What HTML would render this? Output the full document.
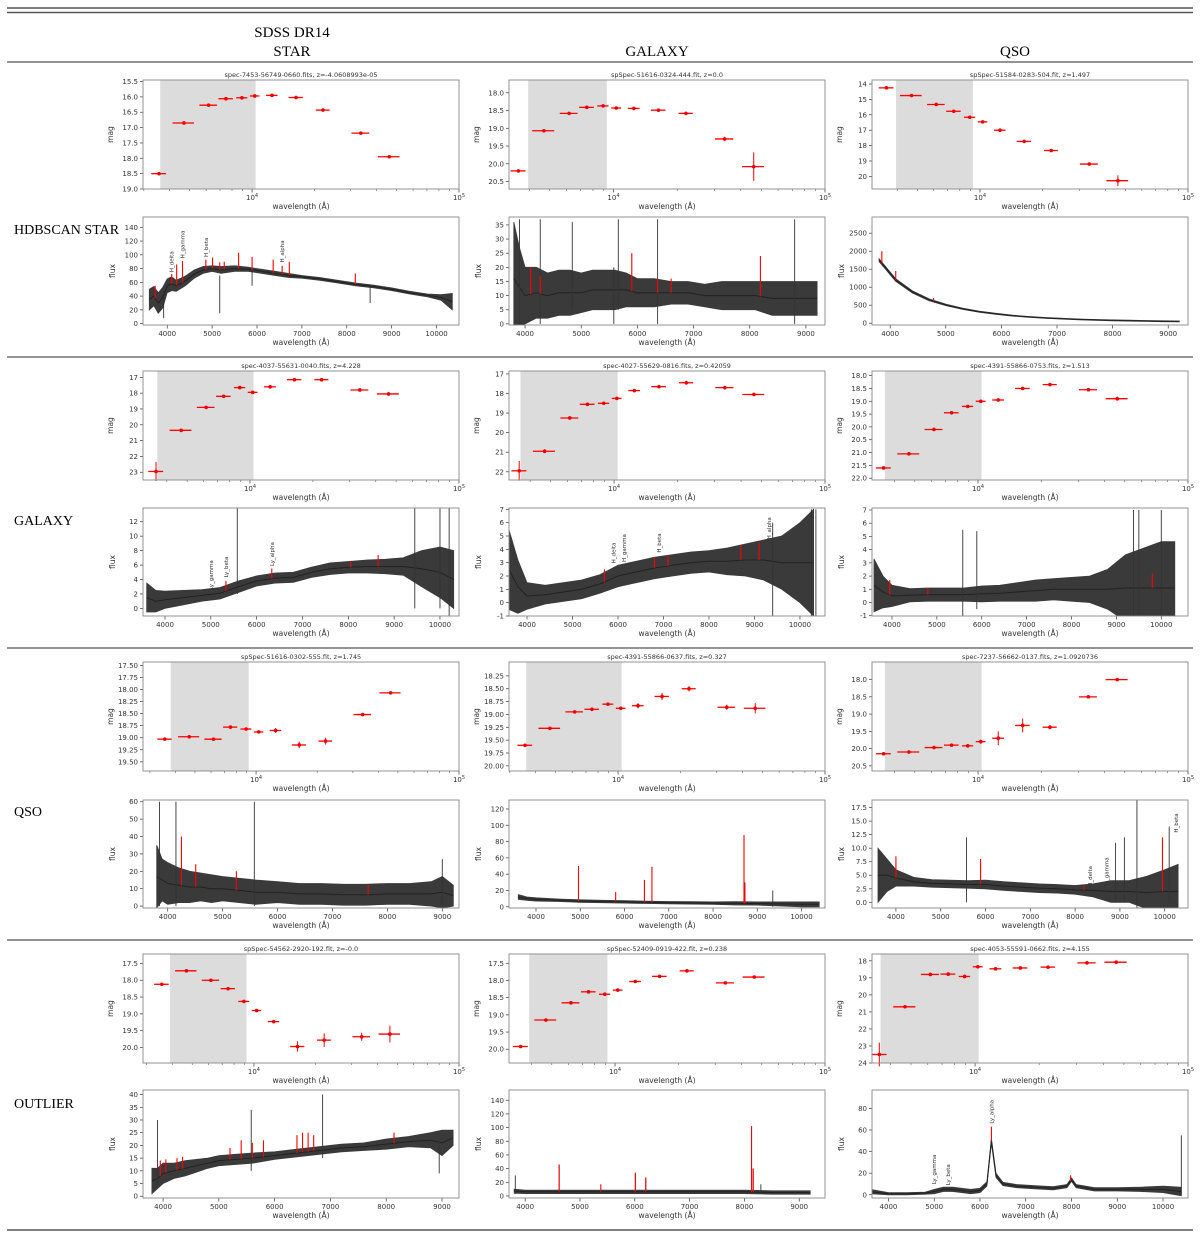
<!DOCTYPE html>
<html><head><meta charset="utf-8"><style>
html,body{margin:0;padding:0;background:#fff;}
svg{display:block;}
.t{font-family:"DejaVu Sans","Liberation Sans",sans-serif;fill:#333;}
.s{font-family:"Liberation Serif",serif;fill:#000;}
</style></head><body>
<svg id="fig" xmlns="http://www.w3.org/2000/svg" width="1200" height="1238" viewBox="0 0 1200 1238">
<line x1="7" y1="8" x2="1193" y2="8" stroke="#555" stroke-width="1.5"/>
<line x1="7" y1="12.5" x2="1193" y2="12.5" stroke="#555" stroke-width="1.5"/>
<line x1="7" y1="62" x2="1193" y2="62" stroke="#555" stroke-width="1.2"/>
<line x1="7" y1="357" x2="1193" y2="357" stroke="#555" stroke-width="1.2"/>
<line x1="7" y1="648" x2="1193" y2="648" stroke="#555" stroke-width="1.2"/>
<line x1="7" y1="940" x2="1193" y2="940" stroke="#555" stroke-width="1.2"/>
<line x1="7" y1="1230" x2="1193" y2="1230" stroke="#555" stroke-width="1.5"/>
<text class="s" x="292" y="37" font-size="15" text-anchor="middle">SDSS DR14</text>
<text class="s" x="292" y="56" font-size="15" text-anchor="middle">STAR</text>
<text class="s" x="657" y="56" font-size="15" text-anchor="middle">GALAXY</text>
<text class="s" x="1015" y="56" font-size="15" text-anchor="middle">QSO</text>
<text class="s" x="14" y="234" font-size="14">HDBSCAN STAR</text>
<text class="s" x="14" y="525" font-size="14">GALAXY</text>
<text class="s" x="14" y="816" font-size="14">QSO</text>
<text class="s" x="14" y="1108" font-size="14">OUTLIER</text>
</svg>
<script>
// ---- shared filter data ----
const filterWave = [3551,4686,6166,7480,8932,10305,12483,16313,22010,33526,46028];
const filterHalf = [290,560,600,600,550,550,800,1300,1700,3300,5500];

// ---- SED magnitudes ----
const magR1C1 = [18.5,16.85,16.27,16.06,16.03,15.97,15.95,16.02,16.43,17.18,17.95];
const errR1C1 = [0.03,0.02,0.02,0.02,0.02,0.02,0.02,0.02,0.03,0.04,0.03];
const magR1C2 = [20.2,19.07,18.58,18.41,18.37,18.43,18.44,18.49,18.58,19.3,20.08];
const errR1C2 = [0.03,0.03,0.03,0.03,0.03,0.03,0.03,0.03,0.04,0.06,0.4];
const magR1C3 = [14.25,14.75,15.33,15.77,16.16,16.46,17.0,17.73,18.32,19.2,20.28];
const errR1C3 = [0.05,0.05,0.05,0.05,0.08,0.08,0.08,0.08,0.08,0.1,0.35];
const magR2C1 = [22.95,20.35,18.9,18.2,17.65,17.95,17.6,17.15,17.15,17.8,18.05];
const errR2C1 = [0.6,0.08,0.08,0.08,0.1,0.08,0.1,0.08,0.08,0.08,0.08];
const magR2C2 = [21.95,20.95,19.25,18.55,18.5,18.25,17.85,17.65,17.45,17.7,18.05];
const errR2C2 = [0.5,0.1,0.08,0.08,0.08,0.08,0.08,0.08,0.1,0.08,0.08];
const magR2C3 = [21.6,21.05,20.1,19.45,19.2,19.0,18.95,18.5,18.35,18.55,18.9];
const errR2C3 = [0.05,0.05,0.05,0.05,0.05,0.05,0.05,0.05,0.05,0.05,0.08];
const magR3C1 = [19.03,18.98,19.03,18.78,18.82,18.88,18.85,19.15,19.07,18.52,18.07];
const errR3C1 = [0.02,0.02,0.03,0.02,0.02,0.02,0.05,0.07,0.07,0.03,0.03];
const magR3C2 = [19.6,19.27,18.95,18.9,18.8,18.88,18.83,18.65,18.5,18.86,18.88];
const errR3C2 = [0.02,0.02,0.02,0.03,0.03,0.03,0.05,0.07,0.05,0.05,0.1];
const magR3C3 = [20.15,20.1,19.97,19.9,19.92,19.8,19.7,19.33,19.38,18.5,18.0];
const errR3C3 = [0.03,0.03,0.03,0.03,0.03,0.06,0.2,0.2,0.06,0.03,0.03];
const magR4C1 = [18.12,17.72,18.0,18.25,18.63,18.9,19.23,19.97,19.78,19.68,19.6];
const errR4C1 = [0.03,0.03,0.03,0.03,0.03,0.03,0.05,0.15,0.2,0.12,0.25];
const magR4C2 = [19.92,19.15,18.65,18.33,18.4,18.28,18.03,17.88,17.72,18.07,17.9];
const errR4C2 = [0.03,0.03,0.03,0.03,0.03,0.03,0.03,0.03,0.03,0.03,0.03];
const magR4C3 = [23.5,20.7,18.8,18.78,18.92,18.35,18.47,18.42,18.37,18.12,18.08];
const errR4C3 = [0.7,0.05,0.1,0.1,0.1,0.05,0.05,0.05,0.05,0.05,0.05];

// ---- SED y tick labels ----
const yTickR1C1 = ["15.5","16.0","16.5","17.0","17.5","18.0","18.5","19.0"];
const yTickR1C2 = ["18.0","18.5","19.0","19.5","20.0","20.5"];
const yTickR1C3 = ["14","15","16","17","18","19","20"];
const yTickR2C1 = ["17","18","19","20","21","22","23"];
const yTickR2C2 = ["17","18","19","20","21","22"];
const yTickR2C3 = ["18.0","18.5","19.0","19.5","20.0","20.5","21.0","21.5","22.0"];
const yTickR3C1 = ["17.50","17.75","18.00","18.25","18.50","18.75","19.00","19.25","19.50"];
const yTickR3C2 = ["18.25","18.50","18.75","19.00","19.25","19.50","19.75","20.00"];
const yTickR3C3 = ["18.0","18.5","19.0","19.5","20.0","20.5"];
const yTickR4C1 = ["17.5","18.0","18.5","19.0","19.5","20.0"];
const yTickR4C2 = ["17.5","18.0","18.5","19.0","19.5","20.0"];
const yTickR4C3 = ["18","19","20","21","22","23","24"];

// ---- spectra: wavelength / flux / noise half-width ----
const waveS11 = [3600,3700,3800,3900,4000,4100,4200,4400,4600,4800,5000,5200,5500,5800,6100,6400,6700,7000,7400,7800,8200,8600,9000,9400,9800,10100,10350];
const fluxS11 = [35,40,30,38,55,58,55,62,72,78,80,78,80,79,76,73,70,68,65,61,57,54,50,45,41,38,32];
const noiseS11 = [15,14,15,15,10,10,8,7,6,5,4,5,4,3,3,3,3,2,2,2,2,2,2,2,2,4,12];
const waveS12 = [3800,3900,4000,4200,4400,4600,4800,5000,5200,5400,5600,5800,6000,6300,6600,6900,7200,7500,7800,8100,8400,8700,9000,9200];
const fluxS12 = [16,13,10,11,10,11,11,11,12,12,12,12,11,11,11,11,10,10,10,10,9,9,9,9];
const noiseS12 = [20,14,10,9,8,8,8,7,7,7,7,6,5,5,4,4,4,5,5,5,6,6,6,6];
const waveS13 = [3800,4100,4400,4700,5000,5300,5600,5900,6200,6500,6800,7100,7400,7700,8000,8300,8600,8900,9200];
const fluxS13 = [1750,1200,870,650,510,400,320,260,210,175,145,125,105,92,80,70,62,55,50];
const noiseS13 = [40,35,30,25,20,18,15,15,12,12,12,12,12,12,12,12,12,12,12];
const waveS21 = [3600,3800,4000,4400,4800,5200,5600,6000,6400,6800,7200,7600,8000,8400,8800,9200,9600,10000,10300];
const fluxS21 = [1.5,1.0,1.2,1.5,1.8,2.1,3.0,3.8,4.2,4.3,5.0,5.5,5.7,5.8,5.8,5.8,5.5,5.0,4.0];
const noiseS21 = [2,1.5,1.2,1,0.8,0.8,0.8,0.7,0.7,0.7,0.7,0.8,0.8,0.9,1,1.2,2.5,3.5,4];
const waveS22 = [3600,3800,4000,4400,4800,5200,5600,6000,6400,6800,7200,7600,8000,8400,8800,9200,9600,10000,10300];
const fluxS22 = [2.5,1.2,0.5,0.6,0.8,1.0,1.4,2.0,2.3,2.6,2.8,3.0,3.1,3.1,3.2,3.2,3.0,3.0,3.0];
const noiseS22 = [3,2,1,0.7,0.7,0.7,0.7,0.8,0.8,0.8,0.8,0.8,0.8,1,1.2,1.5,2,3,4];
const waveS23 = [3600,3800,4000,4400,4800,5200,5600,6000,6400,6800,7200,7600,8000,8400,8800,9200,9600,10000,10300];
const fluxS23 = [1.3,0.8,0.5,0.55,0.6,0.6,0.6,0.65,0.7,0.8,0.9,1.0,1.0,1.0,1.0,1.1,1.1,1.1,1.1];
const noiseS23 = [2,1.2,0.8,0.5,0.5,0.5,0.5,0.6,0.6,0.7,0.8,0.8,0.9,1,1.5,2.5,3,3.5,3.5];
const waveS31 = [3800,3900,4000,4200,4400,4600,4800,5000,5300,5600,6000,6400,6800,7200,7600,8000,8400,8800,9000,9200];
const fluxS31 = [17,15,13,12,11,11,10,10,9,8,8,7,7,6.5,6.5,7,7,7,8,6];
const noiseS31 = [18,12,12,10,9,8,8,7,7,7,6,6,6,6,6,6,6,7,9,6];
const waveS32 = [3600,3800,4000,4500,5000,5500,6000,6500,7000,7500,8000,8500,9000,9500,10000,10400];
const fluxS32 = [12,10,9,8,7,6.5,6,5.5,5,4.8,4.5,4.2,4,3.5,3,3];
const noiseS32 = [3,2,2,1.5,1.5,1.5,1.5,1.5,1.5,1.5,1.5,2,2,2.5,3,3];
const waveS33 = [3600,3800,4000,4400,4800,5200,5600,6000,6400,6800,7200,7600,8000,8400,8800,9200,9600,10000,10300];
const fluxS33 = [5,5,4.5,3.8,3.5,3.4,3.3,3.3,3.0,2.8,2.6,2.5,2.3,2.2,2.0,2.0,1.8,2,2];
const noiseS33 = [5,3,1.5,0.8,0.7,0.7,0.7,0.8,0.8,0.8,0.8,0.8,0.8,1.2,2,2,3,4,5];
const waveS41 = [3800,3900,4000,4200,4400,4600,4800,5000,5300,5600,6000,6400,6800,7200,7600,8000,8400,8800,9000,9200];
const fluxS41 = [6,7,9,10,11,12,13,14,14.5,15,16,17,18,19,19.5,20.5,21.5,22,21,23];
const noiseS41 = [5,4,4,3,3,2.5,2,2,2,2,1.5,1.5,1.5,1.5,1.5,2,2,3,5,3];
const waveS42 = [3800,4000,4500,5000,5500,6000,6500,7000,7500,8000,8500,9000,9200];
const fluxS42 = [7,6,6,6,6,6,6,6,6,6,5,5,5];
const noiseS42 = [3,2.5,2.5,2.5,2.5,2.5,2.5,2.5,2.5,2.5,2.5,2.5,2.5];
const waveS43 = [3600,4000,4400,4800,5000,5200,5400,5600,5800,6000,6150,6250,6350,6500,6800,7200,7600,7900,8000,8100,8500,9000,9500,10000,10400];
const fluxS43 = [3,1,1,1.5,3,5,5,4,3,4,10,50,18,10,8,7,6,8,14,8,5,5,5,5,3];
const noiseS43 = [2,1,1,1,2,2,2,2,2,2,2,2,2,1.5,1.5,1.5,1.5,1.5,1.5,1.5,1.5,1.5,2,3,4];

// ---- emission markers (red), spikes (dark), line notes ----
const redS11 = [[3730,55],[4100,72],[4210,86],[4340,91],[4860,93],[5010,96],[5170,89],[5270,90],[5590,103],[5890,97],[6360,93],[6560,84],[6720,90],[8190,73]];
const spikeS11 = [[5170,15,70],[5890,55,80],[3920,8,40],[8520,30,55]];
const noteS11 = [["H_delta",4100,72],["H_gamma",4340,92],["H_beta",4860,94],["H_alpha",6560,86]];
const redS12 = [[4100,20],[4270,17],[5900,25],[8190,24],[6360,16],[6600,16]];
const spikeS12 = [[3900,0,37],[4270,0,37],[4840,5,36],[5660,5,37],[6360,0,37],[8800,0,37],[5580,0,20]];
const redS13 = [[3850,2000],[4100,1450],[4780,700]];
const spikeS13 = [];
const redS21 = [[5330,3.8],[6330,5.5],[8050,6.5],[8650,7.4]];
const spikeS21 = [[5577,2,14],[9450,0,14],[10000,0,14],[10200,-1,14]];
const noteS21 = [["Ly_gamma",5000,2.3],["Ly_beta",5330,4],["Ly_alpha",6330,5.6]];
const redS22 = [[5700,2.5],[6800,3.4],[7100,3.5],[8700,4.3],[9100,4.5]];
const spikeS22 = [[10250,-1,7],[10350,-1,7],[9400,-1,6]];
const noteS22 = [["H_delta",5900,2.8],["H_gamma",6130,2.9],["H_beta",6900,3.6],["H_alpha",9320,4.6]];
const redS23 = [[3950,1.7],[4800,1.1],[9800,2.2]];
const spikeS23 = [[5577,-1,5.5],[5890,-0.5,5.4],[9380,-1,7],[9500,-1,7],[10000,-1,7]];
const redS31 = [[4250,40],[4510,24],[5250,20],[7650,12]];
const spikeS31 = [[3850,0,60],[4150,0,60],[5577,0,60],[9000,0,27]];
const redS32 = [[4960,50],[5800,18],[6450,33],[6620,49],[8700,88],[8720,28]];
const spikeS32 = [[4960,5,48],[6450,5,30],[6620,5,48],[8700,5,88],[8720,5,30],[9350,0,20]];
const redS33 = [[4000,8.5],[5890,8],[8200,3],[9950,12]];
const spikeS33 = [[5577,0,12],[9380,-1,19],[10100,0,14],[8900,0,11],[9100,0,12]];
const noteS33 = [["H_delta",8330,2.5],["H_gamma",8700,2.8],["H_beta",10250,12.5]];
const redS41 = [[3950,14],[4050,14.5],[4250,15],[4350,15.5],[5200,19],[5400,22],[5600,21],[5800,22],[6400,24],[6500,25],[6600,25],[6700,24],[8140,25]];
const spikeS41 = [[3900,5,30],[5580,10,34],[6860,15,40],[8950,9,22]];
const redS42 = [[4620,46],[5380,17],[6010,34],[6200,27],[8130,102],[8160,40]];
const spikeS42 = [[3820,3,30],[4620,5,46],[6010,5,34],[6200,5,27],[8130,5,102],[8160,5,40],[8300,5,17]];
const redS43 = [[6250,63],[7980,18]];
const spikeS43 = [[10400,0,55]];
const noteS43 = [["Ly_gamma",5000,8],["Ly_beta",5300,7],["Ly_alpha",6250,64]];

const bossTicks = [4000,5000,6000,7000,8000,9000,10000];
const sdssTicks = [4000,5000,6000,7000,8000,9000];

const colLeft = [143,509,872];
const AW = 316;
const sedTop = [80,371,662,954];
const specTop = [217,508,800,1090];
const SH = 109, PH = 108;
const NS = 'http://www.w3.org/2000/svg';
const svg = document.getElementById('fig');

const panels = [
 {r:0,c:0,title:"spec-7453-56749-0660.fits, z=-4.0608993e-05",xl:3.473,yr:[15.45,19.0],yt:yTickR1C1,mag:magR1C1,err:errR1C1,band:[3600,10400],
  sx:[3460,10500],st:bossTicks,sy:[-2,155],syt:[0,20,40,60,80,100,120,140],w:waveS11,f:fluxS11,n:noiseS11,red:redS11,sp:spikeS11,note:noteS11},
 {r:0,c:1,title:"spSpec-51616-0324-444.fit, z=0.0",xl:3.506,yr:[17.64,20.71],yt:yTickR1C2,mag:magR1C2,err:errR1C2,band:[3950,9300],
  sx:[3714,9340],st:sdssTicks,sy:[-0.4,37.8],syt:[0,5,10,15,20,25,30,35],w:waveS12,f:fluxS12,n:noiseS12,red:redS12,sp:spikeS12,note:[]},
 {r:0,c:2,title:"spSpec-51584-0283-504.fit, z=1.497",xl:3.481,yr:[13.74,20.82],yt:yTickR1C3,mag:magR1C3,err:errR1C3,band:[3950,9250],
  sx:[3673,9356],st:sdssTicks,sy:[-50,2950],syt:[0,500,1000,1500,2000,2500],w:waveS13,f:fluxS13,n:noiseS13,red:redS13,sp:spikeS13,note:[]},
 {r:1,c:0,title:"spec-4037-55631-0040.fits, z=4.228",xl:3.488,yr:[16.6,23.49],yt:yTickR2C1,mag:magR2C1,err:errR2C1,band:[3600,10400],
  sx:[3520,10415],st:bossTicks,sy:[-1.05,13.9],syt:[0,2,4,6,8,10,12],w:waveS21,f:fluxS21,n:noiseS21,red:redS21,sp:spikeS21,note:noteS21},
 {r:1,c:1,title:"spec-4027-55629-0816.fits, z=0.42059",xl:3.502,yr:[16.85,22.42],yt:yTickR2C2,mag:magR2C2,err:errR2C2,band:[3600,10400],
  sx:[3604,10550],st:bossTicks,sy:[-1,7.1],syt:[-1,0,1,2,3,4,5,6,7],w:waveS22,f:fluxS22,n:noiseS22,red:redS22,sp:spikeS22,note:noteS22},
 {r:1,c:2,title:"spec-4391-55866-0753.fits, z=1.513",xl:3.495,yr:[17.82,22.07],yt:yTickR2C3,mag:magR2C3,err:errR2C3,band:[3600,10400],
  sx:[3555,10595],st:bossTicks,sy:[-1.02,7.15],syt:[-1,0,1,2,3,4,5,6,7],w:waveS23,f:fluxS23,n:noiseS23,red:redS23,sp:spikeS23,note:[]},
 {r:2,c:0,title:"spSpec-51616-0302-555.fit, z=1.745",xl:3.443,yr:[17.43,19.69],yt:yTickR3C1,mag:magR3C1,err:errR3C1,band:[3800,9200],
  sx:[3550,9304],st:sdssTicks,sy:[-1.1,61],syt:[0,10,20,30,40,50,60],w:waveS31,f:fluxS31,n:noiseS31,red:redS31,sp:spikeS31,note:[]},
 {r:2,c:1,title:"spec-4391-55866-0637.fits, z=0.327",xl:3.473,yr:[17.98,20.1],yt:yTickR3C2,mag:magR3C2,err:errR3C2,band:[3600,10400],
  sx:[3390,10530],st:bossTicks,sy:[-1.5,131],syt:[0,20,40,60,80,100,120],w:waveS32,f:fluxS32,n:noiseS32,red:redS32,sp:spikeS32,note:[]},
 {r:2,c:2,title:"spec-7237-56662-0137.fits, z=1.0920736",xl:3.495,yr:[17.49,20.65],yt:yTickR3C3,mag:magR3C3,err:errR3C3,band:[3600,10400],
  sx:[3466,10520],st:bossTicks,sy:[-1.05,18.9],syt:["0.0","2.5","5.0","7.5","10.0","12.5","15.0","17.5"],w:waveS33,f:fluxS33,n:noiseS33,red:redS33,sp:spikeS33,note:noteS33},
 {r:3,c:0,title:"spSpec-54562-2920-192.fit, z=-0.0",xl:3.459,yr:[17.22,20.46],yt:yTickR4C1,mag:magR4C1,err:errR4C1,band:[3900,9200],
  sx:[3640,9305],st:sdssTicks,sy:[-0.7,41.8],syt:[0,5,10,15,20,25,30,35,40],w:waveS41,f:fluxS41,n:noiseS41,red:redS41,sp:spikeS41,note:[]},
 {r:3,c:1,title:"spSpec-52409-0919-422.fit, z=0.238",xl:3.495,yr:[17.23,20.4],yt:yTickR4C2,mag:magR4C2,err:errR4C2,band:[3900,9200],
  sx:[3705,9470],st:sdssTicks,sy:[-3,155],syt:[0,20,40,60,80,100,120,140],w:waveS42,f:fluxS42,n:noiseS42,red:redS42,sp:spikeS42,note:[]},
 {r:3,c:2,title:"spec-4053-55591-0662.fits, z=4.155",xl:3.516,yr:[17.6,24.0],yt:yTickR4C3,mag:magR4C3,err:errR4C3,band:[3600,10400],
  sx:[3640,10546],st:bossTicks,sy:[-3,97],syt:[0,20,40,60,80],w:waveS43,f:fluxS43,n:noiseS43,red:redS43,sp:spikeS43,note:noteS43}
];

function mk(tag, attrs, parent){
  const e = document.createElementNS(NS, tag);
  for (const k in attrs) e.setAttribute(k, attrs[k]);
  (parent||svg).appendChild(e);
  return e;
}
function txt(parent, x, y, s, size, anchor, extra){
  const e = mk('text', Object.assign({x:x, y:y, 'font-size':size, 'text-anchor':anchor||'middle', class:'t'}, extra||{}), parent);
  e.textContent = s;
  return e;
}
function interpFlux(p, w){
  const ws = p.w;
  if (w <= ws[0]) return p.f[0];
  for (let i = 1; i < ws.length; i++) {
    if (w <= ws[i]) {
      const t = (w - ws[i-1]) / (ws[i] - ws[i-1]);
      return p.f[i-1] + t * (p.f[i] - p.f[i-1]);
    }
  }
  return p.f[p.f.length - 1];
}

panels.forEach(p => {
  const L = colLeft[p.c], R = L + AW;
  const g = mk('g', {});
  
  

  // ===== SED plot =====
  const T = sedTop[p.r], B = T + SH;
  const sx = w => L + (Math.log10(w) - p.xl) / (5 - p.xl) * AW;
  const sy = m => T + (m - p.yr[0]) / (p.yr[1] - p.yr[0]) * SH;
  const sed = mk('g', {}, g);
  
  
  const title = txt(sed, (L+R)/2, T-3, p.title, 6.5);
  
  
  const bx0 = Math.max(L, sx(p.band[0])), bx1 = sx(p.band[1]);
  const band = mk('rect', {x:bx0, y:T, width:bx1-bx0, height:SH, fill:'#dcdcdc'}, sed);
  
  
  p.yt.forEach(s => {
    const y = sy(parseFloat(s));
    mk('line', {x1:L-3, x2:L, y1:y, y2:y, stroke:'#333', 'stroke-width':0.7}, sed);
    const tl = txt(sed, L-5, y+2.5, s, 7, 'end');
    
    
  });
  [3,4,5].forEach(d => {
    const x = sx(Math.pow(10, d));
    if (x >= L - 0.5) {
      mk('line', {x1:x, x2:x, y1:B, y2:B+3.5, stroke:'#333', 'stroke-width':0.7}, sed);
      const tl = txt(sed, x, B+11, '10', 7);
      const sup = mk('tspan', {dy:-3, 'font-size':5}, tl);
      sup.textContent = String(d);
      
      
    }
    for (let k = 2; k <= 9; k++) {
      const xm = sx(k * Math.pow(10, d));
      if (xm >= L && xm <= R) mk('line', {x1:xm, x2:xm, y1:B, y2:B+2, stroke:'#333', 'stroke-width':0.5}, sed);
    }
  });
  const sxl = txt(sed, (L+R)/2, B+20, 'wavelength (Å)', 7.5);
  
  
  const syl = txt(sed, L-30, (T+B)/2, 'mag', 7.5, 'middle', {transform:'rotate(-90 ' + (L-30) + ' ' + ((T+B)/2) + ')'});
  
  
  filterWave.forEach((w, i) => {
    const x = sx(w), y = sy(p.mag[i]);
    const pt = mk('g', {}, sed);
    
    
    mk('line', {x1:sx(w-filterHalf[i]), x2:sx(w+filterHalf[i]), y1:y, y2:y, stroke:'#f00', 'stroke-width':1.3}, pt);
    mk('line', {x1:x, x2:x, y1:sy(p.mag[i]-p.err[i]), y2:sy(p.mag[i]+p.err[i]), stroke:'#f00', 'stroke-width':1}, pt);
    mk('circle', {cx:x, cy:y, r:1.8, fill:'#e00'}, pt);
  });
  mk('rect', {x:L, y:T, width:AW, height:SH, fill:'none', stroke:'#888', 'stroke-width':0.9}, sed);

  // ===== Spectrum plot =====
  const T2 = specTop[p.r], B2 = T2 + PH;
  const px = w => L + (w - p.sx[0]) / (p.sx[1] - p.sx[0]) * AW;
  const py = v => B2 - (v - p.sy[0]) / (p.sy[1] - p.sy[0]) * PH;
  const spg = mk('g', {}, g);
  
  
  const clipId = 'clip' + p.r + p.c;
  const cp = mk('clipPath', {id:clipId}, spg);
  mk('rect', {x:L, y:T2, width:AW, height:PH}, cp);
  const inner = mk('g', {'clip-path':'url(#' + clipId + ')'}, spg);
  let up = '', lo = '', mid = '';
  p.w.forEach((w, i) => {
    up += (i ? 'L' : 'M') + px(w).toFixed(1) + ' ' + py(p.f[i] + p.n[i]).toFixed(1);
    mid += (i ? 'L' : 'M') + px(w).toFixed(1) + ' ' + py(p.f[i]).toFixed(1);
  });
  for (let i = p.w.length - 1; i >= 0; i--) lo += 'L' + px(p.w[i]).toFixed(1) + ' ' + py(p.f[i] - p.n[i]).toFixed(1);
  const bandP = mk('path', {d: up + lo + 'Z', fill:'#3a3a3a', stroke:'#3a3a3a', 'stroke-width':0.8}, inner);
  
  
  const line = mk('path', {d: mid, fill:'none', stroke:'#222', 'stroke-width':1}, inner);
  
  
  p.sp.forEach(s => {
    const l = mk('line', {x1:px(s[0]), x2:px(s[0]), y1:py(s[1]), y2:py(s[2]), stroke:'#333', 'stroke-width':0.9}, inner);
    
    
  });
  p.red.forEach(r => {
    const fi = interpFlux(p, r[0]);
    const l = mk('line', {x1:px(r[0]), x2:px(r[0]), y1:py(fi), y2:py(r[1]), stroke:'#f00', 'stroke-width':1.1}, inner);
    
    
  });
  p.note.forEach(nt => {
    const x = px(nt[1]) + 2, y = py(nt[2]) - 2;
    const tl = txt(inner, x, y, nt[0], 5.5, 'start', {transform:'rotate(-90 ' + x + ' ' + y + ')'});
    
    
  });
  p.st.forEach(v => {
    const x = px(v);
    mk('line', {x1:x, x2:x, y1:B2, y2:B2+3.5, stroke:'#333', 'stroke-width':0.7}, spg);
    const tl = txt(spg, x, B2+11, String(v), 7);
    
    
  });
  p.syt.forEach(v => {
    const y = py(parseFloat(v));
    mk('line', {x1:L-3, x2:L, y1:y, y2:y, stroke:'#333', 'stroke-width':0.7}, spg);
    const tl = txt(spg, L-5, y+2.5, String(v), 7, 'end');
    
    
  });
  const xl = txt(spg, (L+R)/2, B2+20, 'wavelength (Å)', 7.5);
  
  
  const yx = L - 28;
  const yl = txt(spg, yx, (T2+B2)/2, 'flux', 7.5, 'middle', {transform:'rotate(-90 ' + yx + ' ' + ((T2+B2)/2) + ')'});
  
  
  mk('rect', {x:L, y:T2, width:AW, height:PH, fill:'none', stroke:'#888', 'stroke-width':0.9}, spg);
});
</script>
</body></html>
